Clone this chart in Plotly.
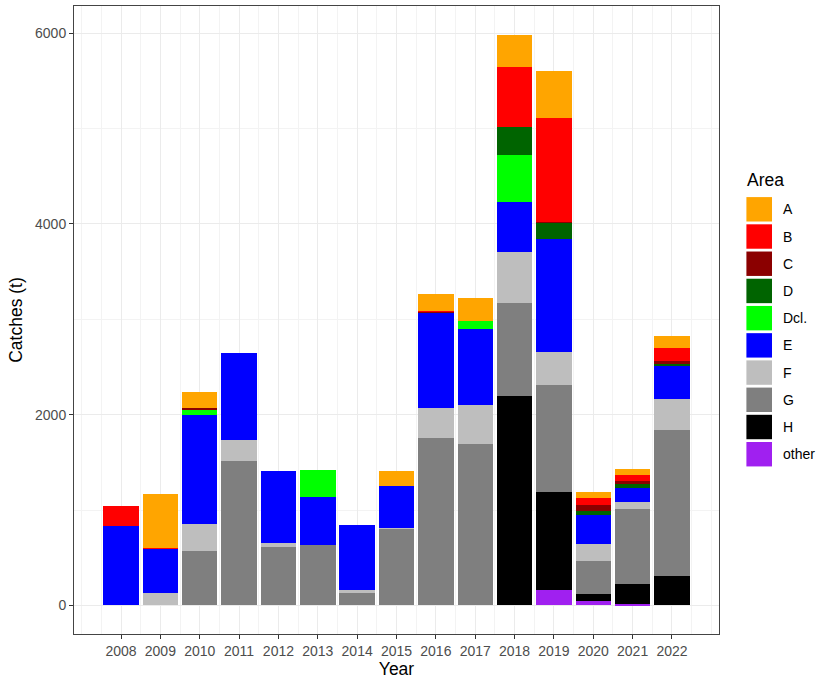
import plotly.graph_objects as go

years = list(range(2008, 2023))

# Catches (t) per area and year
area_names = ["A", "B", "C", "D", "Dcl.", "E", "F", "G", "H", "other"]
area_colors = ["#FFA500", "#FF0000", "#8B0000", "#006400", "#00FF00",
               "#0000FF", "#BEBEBE", "#7F7F7F", "#000000", "#A020F0"]

A     = [0,   558, 167, 0,   0,   0,   0,   157, 174, 240, 341, 495, 64,  63,  118]
B     = [209, 13,  0,   0,   0,   0,   0,   0,   11,  0,   631, 1083, 73, 60,  143]
C     = [0,   0,   28,  0,   0,   0,   0,   0,   13,  0,   0,   11,  67,  31,  31]
D     = [0,   0,   0,   0,   0,   0,   0,   0,   0,   0,   293, 171, 39,  39,  21]
Dcl   = [0,   0,   50,  0,   0,   283, 0,   0,   0,   76,  494, 0,   0,   0,   0]
E     = [836, 463, 1142, 913, 759, 501, 686, 436, 993, 802, 523, 1184, 305, 146, 341]
F     = [0,   130, 282, 227, 35,  0,   17,  10,  321, 404, 533, 349, 181, 76,  326]
G     = [0,   0,   572, 1512, 617, 638, 140, 802, 1753, 1697, 979, 1125, 347, 781, 1535]
H     = [0,   0,   0,   0,   0,   0,   0,   0,   0,   0,   2192, 1021, 69, 219, 307]
other = [0,   0,   0,   0,   0,   0,   0,   0,   0,   0,   0,   164, 46,  11,  0]

series = dict(zip(area_names, [A, B, C, D, Dcl, E, F, G, H, other]))
colors = dict(zip(area_names, area_colors))

FONT = "Liberation Sans, Arial, sans-serif"
TICK_SIZE = 14
TITLE_SIZE = 17.5

fig = go.Figure()
# first area sits on top of the stack, so add traces from the bottom up
for name in reversed(area_names):
    fig.add_trace(go.Bar(
        x=years, y=series[name], name=name, width=0.9,
        marker=dict(color=colors[name], line=dict(width=0)),
        showlegend=False,
    ))

# plot area in pixels
L, R, T, B_ = 74.3, 719.3, 5.0, 635.0
W, H_ = 817, 680

def px(x):
    return (x - L) / (R - L)

def py(y):
    return (B_ - y) / (B_ - T)

totals = [sum(v) for v in zip(*series.values())]
ymax = max(totals)
ypad = 0.05 * ymax
xlo, xhi = years[0] - 0.45, years[-1] + 0.45
xpad = 0.05 * (xhi - xlo)

# legend drawn as swatches + labels
shapes = []
annotations = []
annotations.append(dict(x=px(745), y=py(180), xref="paper", yref="paper",
                        text="Area", showarrow=False, xanchor="left", yanchor="middle",
                        font=dict(family=FONT, size=TITLE_SIZE, color="#000000")))
for i, name in enumerate(area_names):
    top = 196.7 + i * 27.3
    shapes.append(dict(type="rect", xref="paper", yref="paper",
                       x0=px(746.7), x1=px(772.3), y0=py(top + 24.5), y1=py(top),
                       fillcolor=colors[name], line=dict(width=0)))
    annotations.append(dict(x=px(781), y=py(top + 12.3), xref="paper", yref="paper",
                            text=name, showarrow=False, xanchor="left", yanchor="middle",
                            font=dict(family=FONT, size=TICK_SIZE, color="#000000")))

fig.update_layout(
    barmode="stack",
    width=W, height=H_,
    margin=dict(l=L, r=W - R, t=T, b=H_ - B_, pad=0),
    paper_bgcolor="white",
    plot_bgcolor="white",
    font=dict(family=FONT, size=TICK_SIZE, color="#4D4D4D"),
    shapes=shapes,
    annotations=annotations,
    bargap=0,
)

fig.update_xaxes(
    range=[xlo - xpad, xhi + xpad],
    tickmode="array", tickvals=years, ticktext=[str(y) for y in years],
    ticks="outside", ticklen=4, tickcolor="#333333", tickwidth=1,
    tickfont=dict(family=FONT, size=TICK_SIZE, color="#4D4D4D"),
    showgrid=True, gridcolor="#EBEBEB", gridwidth=1,
    minor=dict(tickvals=[y + 0.5 for y in range(2006, 2023)] + [2007, 2023],
               showgrid=True, gridcolor="#F3F3F3", gridwidth=1, ticks=""),
    showline=True, linecolor="#444444", linewidth=1, mirror=True,
    zeroline=False,
    title=dict(text="Year", font=dict(family=FONT, size=TITLE_SIZE, color="#000000"), standoff=4),
)

fig.update_yaxes(
    range=[-ypad, ymax + ypad],
    tickmode="array", tickvals=[0, 2000, 4000, 6000],
    ticks="outside", ticklen=4, tickcolor="#333333", tickwidth=1,
    tickfont=dict(family=FONT, size=TICK_SIZE, color="#4D4D4D"),
    showgrid=True, gridcolor="#EBEBEB", gridwidth=1,
    minor=dict(tickvals=[1000, 3000, 5000], showgrid=True, gridcolor="#F3F3F3",
               gridwidth=1, ticks=""),
    showline=True, linecolor="#444444", linewidth=1, mirror=True,
    zeroline=False,
    title=dict(text="Catches (t)", font=dict(family=FONT, size=TITLE_SIZE, color="#000000"), standoff=7),
)

fig.write_html("out.html")
